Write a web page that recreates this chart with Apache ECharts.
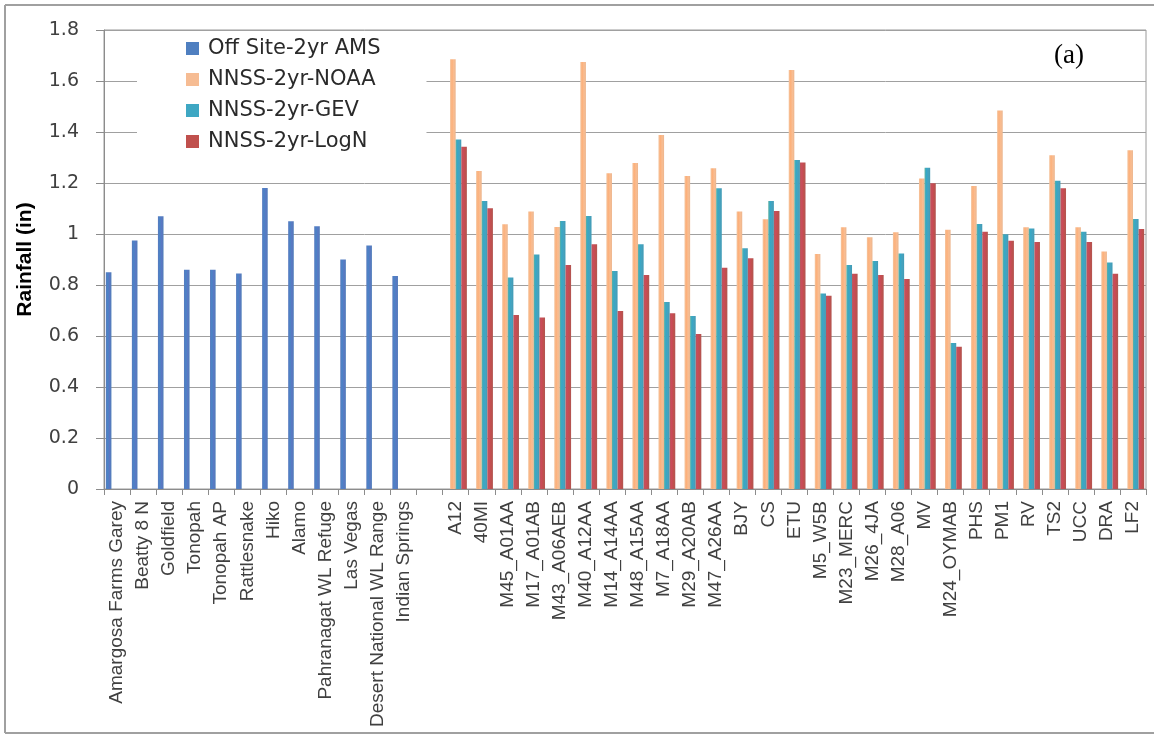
<!DOCTYPE html>
<html>
<head>
<meta charset="utf-8">
<script src="https://cdn.jsdelivr.net/npm/echarts@6/dist/echarts.min.js"></script>
<style>html,body{margin:0;padding:0;background:#fff;}#chart{width:1154px;height:734px;}</style>
</head>
<body>
<div id="chart"></div>
<script>
const offSiteStations = ['Amargosa Farms Garey','Beatty 8 N','Goldfield','Tonopah','Tonopah AP','Rattlesnake','Hiko','Alamo','Pahranagat WL Refuge','Las Vegas','Desert National WL Range','Indian Springs'];
const nnssStations = ['A12','40MI','M45_A01AA','M17_A01AB','M43_A06AEB','M40_A12AA','M14_A14AA','M48_A15AA','M7_A18AA','M29_A20AB','M47_A26AA','BJY','CS','ETU','M5_W5B','M23_MERC','M26_4JA','M28_A06','MV','M24_OYMAB','PHS','PM1','RV','TS2','UCC','DRA','LF2'];

const offSiteAMS = [0.85,0.975,1.07,0.86,0.86,0.845,1.18,1.05,1.03,0.90,0.955,0.835];
const nnssNOAA = [1.685,1.247,1.038,1.088,1.027,1.675,1.238,1.278,1.388,1.227,1.258,1.088,1.058,1.643,0.922,1.026,0.987,1.007,1.218,1.017,1.188,1.484,1.026,1.309,1.026,0.931,1.328];
const nnssGEV  = [1.371,1.129,0.829,0.920,1.051,1.071,0.855,0.960,0.733,0.678,1.179,0.944,1.129,1.290,0.767,0.878,0.894,0.924,1.260,0.573,1.039,0.999,1.022,1.209,1.009,0.888,1.059];
const nnssLogN = [1.342,1.101,0.682,0.673,0.878,0.960,0.698,0.839,0.689,0.608,0.868,0.905,1.090,1.280,0.758,0.844,0.839,0.824,1.199,0.558,1.009,0.974,0.969,1.179,0.969,0.844,1.020];

const seriesNames = ['Off Site-2yr AMS','NNSS-2yr-NOAA','NNSS-2yr-GEV','NNSS-2yr-LogN'];

const categories = offSiteStations.concat([''], nnssStations);
const pad = n => new Array(n).fill(null);
const offData = offSiteAMS.concat(pad(1 + nnssStations.length));
const nnssPad = pad(offSiteStations.length + 1);

function grad(stops){
  return new echarts.graphic.LinearGradient(0,0,1,0, stops.map((c,i)=>({offset:i/(stops.length-1), color:c})));
}
const fills = [
  grad(['#5a79bf','#4a84c6','#5b77c3','#4f7fb9']),
  grad(['#f3c49e','#fdb07a','#f8bd92','#ecb58d']),
  grad(['#5fb0a0','#35a8c8','#47a2bd','#3f9bb6']),
  grad(['#b35b5b','#cc4a5a','#c0504d','#b15552'])
];
const legendColors = ['#4f7fc0','#f6bc93','#3ea7c3','#c0504d'];

function mk(i, data){
  return {
    name: seriesNames[i], type:'bar', data:data,
    barGap:'0%', barCategoryGap:'14%',
    itemStyle:{color:fills[i]},
    emphasis:{disabled:true}
  };
}

const chart = echarts.init(document.getElementById('chart'), null, {renderer:'canvas'});
chart.setOption({
  animation:false,
  backgroundColor:'#ffffff',
  color: legendColors,
  grid:{left:104, right:8, top:30, bottom:245, show:true, borderColor:'#9a9a9a', borderWidth:1},
  legend:{
    orient:'vertical', left:137, top:31,
    padding:[7,46,12,49],
    backgroundColor:'#ffffff',
    itemWidth:13, itemHeight:13, itemGap:10,
    icon:'rect',
    textStyle:{fontFamily:'DejaVu Sans', fontSize:21, color:'#2a2a2a', padding:[0,0,0,4]},
    data: seriesNames.map((n,i)=>({name:n, itemStyle:{color:legendColors[i]}}))
  },
  xAxis:{
    type:'category', data:categories,
    axisLine:{lineStyle:{color:'#8c8c8c', width:1}},
    axisTick:{show:true, length:6, interval:0, lineStyle:{color:'#8c8c8c'}},
    axisLabel:{interval:0, rotate:90, margin:12, fontFamily:'Liberation Sans', fontSize:19, color:'#404040'},
    splitLine:{show:false}
  },
  yAxis:{
    type:'value', min:0, max:1.8, interval:0.2,
    name:'Rainfall (in)', nameLocation:'middle', nameGap:68, nameRotate:90,
    nameTextStyle:{fontFamily:'Liberation Sans', fontWeight:'bold', fontSize:21, color:'#000000'},
    axisLine:{show:true, lineStyle:{color:'#8c8c8c'}},
    axisTick:{show:true, length:8, lineStyle:{color:'#8c8c8c'}},
    axisLabel:{margin:25, fontFamily:'DejaVu Sans', fontSize:19, color:'#404040',
      formatter: v => String(Math.round(v*10)/10)},
    splitLine:{show:true, lineStyle:{color:'#a0a0a0', width:1}}
  },
  graphic:[
    {type:'line', shape:{x1:5,y1:5,x2:1154,y2:5}, style:{stroke:'#a0a0a0', lineWidth:2}, z:100},
    {type:'line', shape:{x1:5,y1:5,x2:5,y2:733}, style:{stroke:'#a0a0a0', lineWidth:2}, z:100},
    {type:'line', shape:{x1:5,y1:733,x2:1154,y2:733}, style:{stroke:'#a0a0a0', lineWidth:2}, z:100},
    {type:'text', left:1054, top:42, style:{text:'(a)', fontFamily:'Liberation Serif', fontSize:27, fill:'#000000'}, z:100}
  ],
  series:[
    mk(0, offData),
    mk(1, nnssPad.concat(nnssNOAA)),
    mk(2, nnssPad.concat(nnssGEV)),
    mk(3, nnssPad.concat(nnssLogN))
  ]
});
</script>
</body>
</html>
